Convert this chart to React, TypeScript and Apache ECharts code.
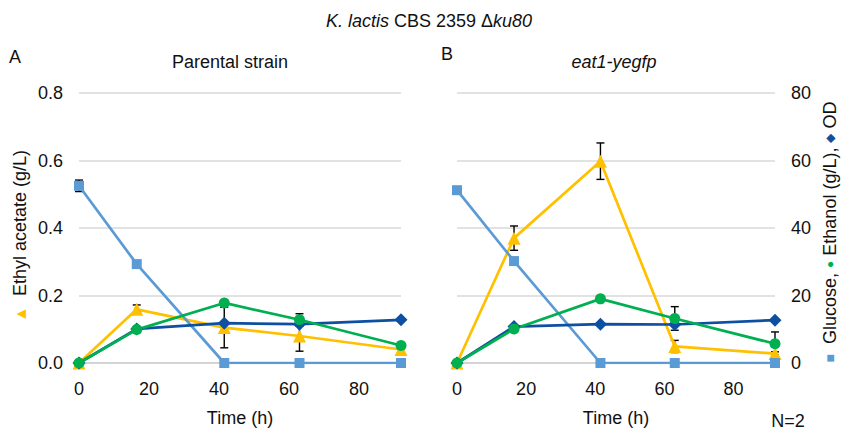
import React, { useEffect, useRef } from "react";
import * as echarts from "echarts";

// Sampling times (h)
const timeH = [0, 16.5, 41.5, 63, 92];

// Panel A – Parental strain
const aEthylAcetate = [0, 0.159, 0.105, 0.08, 0.04];
const aEthylAcetateErr = [0, 0.013, 0.06, 0.045, 0.007];
const aGlucose = [52.5, 29.3, 0, 0, 0];
const aGlucoseErr = [1.7, 0, 0, 0, 0];
const aEthanol = [0, 9.9, 17.8, 12.8, 5.2];
const aEthanolErr = [0, 0, 0, 1.8, 0];
const aOD = [0, 10.1, 11.8, 11.5, 12.8];

// Panel B – eat1-yegfp
const bEthylAcetate = [0, 0.37, 0.598, 0.049, 0.028];
const bEthylAcetateErr = [0, 0.036, 0.054, 0.018, 0.005];
const bGlucose = [51.2, 30.2, 0, 0, 0];
const bGlucoseErr = [0, 0, 0, 0, 0];
const bEthanol = [0, 10.1, 19.0, 13.2, 5.7];
const bEthanolErr = [0, 0, 0, 3.5, 3.5];
const bOD = [0, 10.8, 11.5, 11.4, 12.7];

const leftTicks = [0, 0.2, 0.4, 0.6, 0.8];
const rightTicks = [0, 20, 40, 60, 80];
const xTicks = [0, 20, 40, 60, 80];

const FONT = '"Liberation Sans", Arial, sans-serif';
const C_EA = "#FFC000";
const C_GLU = "#5B9BD5";
const C_ETH = "#00B050";
const C_OD = "#0D4FA0";
const GRID_C = "#D9D9D9";

function pairs(vals: number[]) {
  return timeH.map((t, i) => [t, vals[i]]);
}

function errSeries(xi: number, yi: number, vals: number[], errs: number[]) {
  const data = timeH
    .map((t, i) => [t, vals[i] - errs[i], vals[i] + errs[i], errs[i]])
    .filter((d) => d[3] > 0);
  return {
    type: "custom",
    xAxisIndex: xi,
    yAxisIndex: yi,
    z: 1,
    data,
    encode: { x: 0, y: [1, 2] },
    renderItem: (_p: any, api: any) => {
      const x = api.value(0);
      const lo = api.coord([x, api.value(1)]);
      const hi = api.coord([x, api.value(2)]);
      const w = 4;
      const st = { stroke: "#000", lineWidth: 1.4 };
      return {
        type: "group",
        children: [
          { type: "line", shape: { x1: lo[0], y1: lo[1], x2: hi[0], y2: hi[1] }, style: st },
          { type: "line", shape: { x1: lo[0] - w, y1: lo[1], x2: lo[0] + w, y2: lo[1] }, style: st },
          { type: "line", shape: { x1: hi[0] - w, y1: hi[1], x2: hi[0] + w, y2: hi[1] }, style: st },
        ],
      };
    },
  };
}

function lineSeries(xi: number, yi: number, vals: number[], color: string, symbol: string, size: number) {
  return {
    type: "line",
    xAxisIndex: xi,
    yAxisIndex: yi,
    z: 2,
    data: pairs(vals),
    symbol,
    symbolSize: size,
    showSymbol: true,
    lineStyle: { color, width: 2.7 },
    itemStyle: { color },
  };
}

export default function App() {
  const ref = useRef<HTMLDivElement>(null);

  useEffect(() => {
    if (!ref.current) return;
    const chart = echarts.init(ref.current, undefined, { renderer: "svg" });

    const xAxisBase = (gridIndex: number) => ({
      type: "value",
      gridIndex,
      min: 0,
      max: 92,
      interval: 20,
      name: "Time (h)",
      nameLocation: "middle",
      nameGap: 46,
      nameTextStyle: { fontFamily: FONT, fontSize: 18, color: "#111" },
      axisLine: { show: true, onZero: true, lineStyle: { color: "#D0D0D0", width: 1.5 } },
      axisTick: { show: false },
      splitLine: { show: false },
      axisLabel: {
        fontFamily: FONT,
        fontSize: 18,
        color: "#111",
        margin: 17,
        formatter: (v: number) => (xTicks.includes(v) ? String(v) : ""),
      },
    });

    const yLeft = (gridIndex: number, showLabels: boolean) => ({
      type: "value",
      gridIndex,
      position: "left",
      min: 0,
      max: 0.8,
      interval: 0.2,
      axisLine: { show: false },
      axisTick: { show: false },
      splitLine: { show: true, lineStyle: { color: GRID_C, width: 1.5 } },
      axisLabel: {
        show: showLabels,
        fontFamily: FONT,
        fontSize: 18,
        color: "#111",
        margin: 16,
        formatter: (v: number) => {
          const m = leftTicks.find((t) => Math.abs(t - v) < 1e-6);
          return m === undefined ? "" : m.toFixed(1);
        },
      },
    });

    const yRight = (gridIndex: number, showLabels: boolean) => ({
      type: "value",
      gridIndex,
      position: "right",
      min: 0,
      max: 80,
      interval: 20,
      axisLine: { show: false },
      axisTick: { show: false },
      splitLine: { show: false },
      axisLabel: {
        show: showLabels,
        fontFamily: FONT,
        fontSize: 18,
        color: "#111",
        margin: 16,
        formatter: (v: number) => (rightTicks.includes(v) ? String(v) : ""),
      },
    });

    const txt = (x: number, y: number, text: string, extra: any = {}) => ({
      type: "text",
      x,
      y,
      style: {
        text,
        fontFamily: FONT,
        fontSize: 18,
        fill: "#111",
        align: "center",
        verticalAlign: "middle",
        ...extra,
      },
    });

    const option: any = {
      animation: false,
      backgroundColor: "#fff",
      grid: [
        { left: 79, top: 93, width: 322, height: 275 },
        { left: 457, top: 93, width: 318, height: 275 },
      ],
      xAxis: [xAxisBase(0), xAxisBase(1)],
      yAxis: [yLeft(0, true), yRight(0, false), yLeft(1, false), yRight(1, true)],
      series: [
        errSeries(0, 0, aEthylAcetate, aEthylAcetateErr),
        errSeries(0, 1, aGlucose, aGlucoseErr),
        errSeries(0, 1, aEthanol, aEthanolErr),
        lineSeries(0, 0, aEthylAcetate, C_EA, "triangle", 13),
        lineSeries(0, 1, aGlucose, C_GLU, "rect", 10),
        lineSeries(0, 1, aOD, C_OD, "diamond", 13),
        lineSeries(0, 1, aEthanol, C_ETH, "circle", 11),
        errSeries(1, 2, bEthylAcetate, bEthylAcetateErr),
        errSeries(1, 3, bGlucose, bGlucoseErr),
        errSeries(1, 3, bEthanol, bEthanolErr),
        lineSeries(1, 2, bEthylAcetate, C_EA, "triangle", 13),
        lineSeries(1, 3, bGlucose, C_GLU, "rect", 10),
        lineSeries(1, 3, bOD, C_OD, "diamond", 13),
        lineSeries(1, 3, bEthanol, C_ETH, "circle", 11),
      ],
      graphic: [
        txt(429, 21, "{i|K. lactis} CBS 2359 Δ{i|ku80}", {
          fontSize: 18,
          rich: { i: { fontStyle: "italic", fontFamily: FONT, fontSize: 18, fill: "#111" } },
        }),
        txt(15, 57, "A"),
        txt(447, 54, "B"),
        txt(230, 62, "Parental strain"),
        txt(614, 62, "eat1-yegfp", { fontStyle: "italic" }),
        txt(788, 421, "N=2"),
        {
          type: "text",
          x: 20,
          y: 236,
          rotation: Math.PI / 2,
          style: {
            text: "{t|▲}  Ethyl acetate (g/L)",
            fontFamily: FONT,
            fontSize: 18,
            fill: "#111",
            align: "center",
            verticalAlign: "middle",
            rich: { t: { fill: C_EA, fontSize: 16, fontFamily: FONT } },
          },
        },
        {
          type: "text",
          x: 830,
          y: 232,
          rotation: Math.PI / 2,
          style: {
            text: "{s|■}  Glucose, {c|●} Ethanol (g/L), {d|◆} OD",
            fontFamily: FONT,
            fontSize: 18,
            fill: "#111",
            align: "center",
            verticalAlign: "middle",
            rich: {
              s: { fill: C_GLU, fontSize: 14, fontFamily: FONT },
              c: { fill: C_ETH, fontSize: 12, fontFamily: FONT },
              d: { fill: C_OD, fontSize: 12, fontFamily: FONT },
            },
          },
        },
      ],
    };

    chart.setOption(option);
    return () => chart.dispose();
  }, []);

  return (
    <div
      ref={ref}
      style={{ position: "fixed", left: 0, top: 0, width: 842, height: 432, background: "#fff" }}
    />
  );
}
